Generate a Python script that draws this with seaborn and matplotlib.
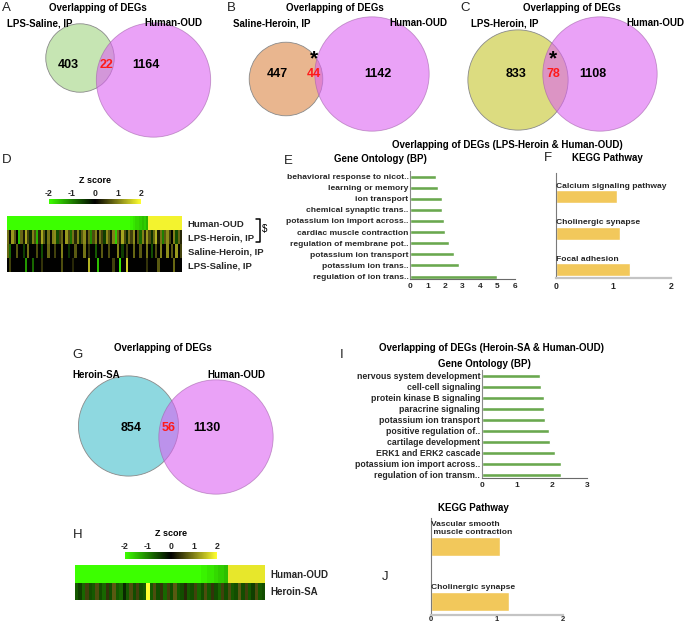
import numpy as np
import matplotlib
matplotlib.use('Agg')
import matplotlib.pyplot as plt
import seaborn as sns
from matplotlib.colors import LinearSegmentedColormap
from matplotlib.patches import Circle

sns.set_style('white')
plt.rcParams['font.family'] = ['Liberation Sans', 'DejaVu Sans']
plt.rcParams['font.weight'] = 'bold'
plt.rcParams['axes.unicode_minus'] = False

W, H = 685, 623

# ---- Venn counts: (only left, overlap, only Human-OUD) ----
venn_a = [403, 22, 1164]
venn_b = [447, 44, 1142]
venn_c = [833, 78, 1108]
venn_g = [854, 56, 1130]

# ---- GO / KEGG (LPS-Heroin & Human-OUD) ----
go_e_terms = ['behavioral response to nicot..', 'learning or memory', 'ion transport',
              'chemical synaptic trans..', 'potassium ion import across..',
              'cardiac muscle contraction', 'regulation of membrane pot..',
              'potassium ion transport', 'potassium ion trans..', 'regulation of ion trans..']
go_e_values = [1.47, 1.58, 1.83, 1.83, 1.92, 1.98, 2.23, 2.53, 2.80, 4.95]

kegg_f_terms = ['Calcium signaling pathway', 'Cholinergic synapse', 'Focal adhesion']
kegg_f_values = [1.06, 1.11, 1.30]

# ---- GO / KEGG (Heroin-SA & Human-OUD) ----
go_i_terms = ['nervous system development', 'cell-cell signaling', 'protein kinase B signaling',
              'paracrine signaling', 'potassium ion transport', 'positive regulation of..',
              'cartilage development', 'ERK1 and ERK2 cascade',
              'potassium ion import across..', 'regulation of ion transm..']
go_i_values = [1.67, 1.70, 1.77, 1.77, 1.80, 1.91, 1.95, 2.10, 2.27, 2.27]

kegg_j_terms = ['Vascular smooth\n muscle contraction', 'Cholinergic synapse']
kegg_j_values = [1.05, 1.18]

# ---- heatmap D (78 overlapping genes, z scores) ----
heat_d_rows = ['Human-OUD', 'LPS-Heroin, IP', 'Saline-Heroin, IP', 'LPS-Saline, IP']
human_oud_d = [-2.0, -2.0, -2.0, -2.0, -2.0, -2.0, -2.0, -2.0, -2.0, -2.0,
               -2.0, -2.0, -2.0, -2.0, -2.0, -2.0, -2.0, -2.0, -2.0, -2.0,
               -2.0, -2.0, -2.0, -2.0, -2.0, -2.0, -2.0, -2.0, -2.0, -2.0,
               -2.0, -2.0, -2.0, -2.0, -2.0, -2.0, -2.0, -2.0, -2.0, -2.0,
               -2.0, -2.0, -2.0, -2.0, -2.0, -2.0, -2.0, -2.0, -2.0, -2.0,
               -2.0, -2.0, -2.0, -2.0, -2.0, -1.9, -1.8, -1.7, -1.7, -1.6,
               -1.5, -1.6, -1.4, 1.9, 1.9, 1.9, 1.9, 1.9, 1.9, 1.9,
               1.9, 1.9, 1.9, 1.9, 1.9, 1.9, 1.9, 1.9]
lps_heroin_d = [0.9, 0.1, 1.2, 0.7, 0.0, -1.5, 0.8, 0.2, 1.3, 0.5, -0.3, 1.0, 0.6, -1.4, 0.3, 1.3, 0.7, -0.2, 0.9, 0.1,
                1.0, 1.1, -0.6, 0.5, 0.8, 0.0, 1.2, 0.6, -0.9, 0.9, 0.3, 1.0, -0.4, 0.7, 1.1, 0.2, 0.8, -1.1, 0.6, 1.0,
                0.1, 0.9, 0.5, -0.5, 1.1, 0.7, 0.2, 1.0, -1.6, 0.8, 0.3, 1.3, 0.6, -0.3, 0.9, 0.5, 1.1, 0.0, 0.7, -0.8,
                1.0, 0.3, 1.2, 0.6, -0.4, 0.8, 1.4, 0.2, 0.9, -1.0, 0.7, 1.1, 0.5, 0.0, 1.0, -0.6, 0.8, 0.3]
saline_heroin_d = [0.8, -0.8, 0.0, 0.0, 0.7, 0.0, 0.0, -0.5, 0.0, 0.9, 0.0, 0.0, 0.0, 0.6, 0.0, -0.6, 0.0, 0.0, 0.8, 0.0,
                   0.0, 0.5, 0.0, 0.0, 1.0, 0.0, 0.0, -0.4, 0.0, 0.0, 0.7, 0.0, 0.0, 0.0, 0.9, 0.0, 0.4, 0.0, 0.0, -0.7,
                   0.0, 0.0, 0.7, 0.0, 0.0, 0.6, 0.0, 0.0, 0.0, 1.0, 0.0, -0.5, 0.0, 0.5, 0.0, 0.0, 0.8, 0.0, 0.0, 0.7,
                   0.0, 0.0, 0.9, 0.0, -0.6, 0.0, 0.6, 0.0, 1.0, 0.0, 0.0, 1.1, 0.0, 0.7, 0.0, 1.2, 0.0, 0.5]
lps_saline_d = [0.0, 0.5, 0.0, 0.0, 0.0, 0.0, 0.0, 0.0, -1.2, 0.0, 0.0, -0.8, 0.0, 0.0, 0.0, 0.4, 0.0, 0.0, 0.0, 0.0,
                0.0, 0.0, 0.0, 0.0, 0.6, 0.0, 0.0, 0.0, 0.0, 0.3, 0.0, 0.0, 0.0, 0.0, 0.0, 0.0, 1.4, 0.0, 0.0, 0.0,
                -1.5, 0.0, 0.0, 0.0, 0.0, 0.0, 0.0, 0.5, 0.0, 0.0, -1.8, 0.0, 0.0, 1.6, 0.0, 0.0, 0.0, 0.0, 0.0, 0.0,
                0.0, 0.0, 0.4, 0.0, 0.0, 0.0, 0.0, 0.7, 0.0, 0.0, 0.0, 0.0, 0.0, 0.0, 0.8, 0.0, 0.0, 0.0]

# ---- heatmap H (56 overlapping genes) ----
heat_h_rows = ['Human-OUD', 'Heroin-SA']
human_oud_h = [-2.0, -2.0, -2.0, -2.0, -2.0, -2.0, -2.0, -2.0, -2.0, -2.0,
               -2.0, -2.0, -2.0, -2.0, -2.0, -2.0, -2.0, -2.0, -2.0, -2.0,
               -2.0, -2.0, -2.0, -2.0, -2.0, -2.0, -2.0, -2.0, -2.0, -2.0,
               -2.0, -2.0, -2.0, -2.0, -2.0, -2.0, -2.0, -1.9, -1.9, -1.8,
               -1.8, -1.7, -1.6, -1.6, -1.5, 1.8, 1.8, 1.8, 1.8, 1.8,
               1.8, 1.8, 1.8, 1.8, 1.8, 1.8]
heroin_sa_h = [-0.7, -0.5, -0.8, 0.5, -0.6, -0.7, 0.6, -0.6, -0.8, 0.4,
               -0.6, 0.7, -0.7, -0.8, -0.3, -0.7, 0.6, -0.6, 0.5, -0.6,
               -0.7, 2.0, -0.7, 0.6, -0.6, 0.4, -0.8, 0.5, -0.6, 0.7,
               -0.7, -0.6, 0.3, -0.7, -0.6, 0.5, -0.8, -0.6, 0.6, -0.7,
               0.4, -0.6, -0.8, 0.5, -0.6, 0.6, -0.7, -0.6, 0.7, -0.6,
               0.5, -0.7, -0.5, 0.6, -0.7, -0.6]

PINK = '#dc64f3'
GO_GREEN = '#6aa84f'
KEGG_YELLOW = '#f2c85b'
zcmap = LinearSegmentedColormap.from_list('zscore', ['#3cff00', '#000000', '#ffff30'])

fig = plt.figure(figsize=(W / 100, H / 100), dpi=100)

# full-figure canvas in pixel units for Venns and free text
canvas = fig.add_axes([0, 0, 1, 1])
canvas.set_xlim(0, W)
canvas.set_ylim(H, 0)
canvas.axis('off')


def px_axes(x0, y0, x1, y1):
    return fig.add_axes([x0 / W, 1 - y1 / H, (x1 - x0) / W, (y1 - y0) / H])


def txt(x, y, s, size=7, weight='bold', color='k', **kw):
    canvas.text(x, y, s, fontsize=size, fontweight=weight, color=color,
                ha=kw.pop('ha', 'center'), va=kw.pop('va', 'center'), **kw)


R_SCALE = 1.66


def draw_venn(counts, left_color, c_left, c_right, num_xy, star=False):
    r_left = R_SCALE * np.sqrt(counts[0] + counts[1])
    r_right = R_SCALE * np.sqrt(counts[1] + counts[2])
    canvas.add_patch(Circle(c_left, r_left, facecolor=left_color, edgecolor='#8a8a8a', lw=0.6, zorder=1))
    canvas.add_patch(Circle(c_right, r_right, facecolor=PINK, edgecolor='#a060a8', lw=0.6,
                            alpha=0.6, zorder=2))
    (x0, x1, x2), y = num_xy
    txt(x0, y, str(counts[0]), size=9, zorder=3)
    txt(x1, y, str(counts[1]), size=9, color='#ff1a1a', zorder=3)
    txt(x2, y, str(counts[2]), size=9, zorder=3)
    if star:
        txt(x1, y - 6, '*', size=15, zorder=3, va='bottom')


# Venn A, B, C, G
draw_venn(venn_a, '#c6e5b3', (80, 58), (153.5, 80), ((68, 107, 146), 65))
draw_venn(venn_b, '#e9b68f', (286, 79), (372, 74), ((277, 314, 378), 74), star=True)
draw_venn(venn_c, '#dcdc80', (518, 80), (600, 74), ((516, 553, 593), 74), star=True)
draw_venn(venn_g, '#8ed8e0', (128.5, 426), (216, 437), ((131, 169, 207), 428))

for x, title in [(98, 'Overlapping of DEGs'), (335, 'Overlapping of DEGs'), (572, 'Overlapping of DEGs')]:
    txt(x, 8, title)
txt(163, 348, 'Overlapping of DEGs')
txt(40, 23, 'LPS-Saline, IP')
txt(173, 23, 'Human-OUD')
txt(272, 23, 'Saline-Heroin, IP')
txt(418, 23, 'Human-OUD')
txt(505, 23, 'LPS-Heroin, IP')
txt(655, 23, 'Human-OUD')
txt(96, 375, 'Heroin-SA')
txt(236, 375, 'Human-OUD')

# panel letters
for x, y, letter in [(6, 8, 'A'), (231, 8, 'B'), (465, 8, 'C'), (7, 160, 'D'), (288, 161, 'E'),
                     (548, 158, 'F'), (78, 355, 'G'), (78, 535, 'H'), (342, 355, 'I'), (385, 577, 'J')]:
    txt(x, y, letter, size=9.5, weight='normal', color='#222222')

# ---- D heatmap ----
ax_d = px_axes(7, 216, 182, 272)
cax_d = px_axes(49, 199, 141, 204)
sns.heatmap(np.array([human_oud_d, lps_heroin_d, saline_heroin_d, lps_saline_d]), cmap=zcmap,
            vmin=-2, vmax=2, ax=ax_d, cbar_ax=cax_d, xticklabels=False, yticklabels=heat_d_rows,
            cbar_kws={'orientation': 'horizontal', 'ticks': [-2, -1, 0, 1, 2]})
txt(95, 185, 'Z score', size=6.5, va='bottom')
canvas.plot([256, 260, 260, 256], [219, 219, 242, 242], color='k', lw=1.1)
txt(265, 229, '$', size=7, weight='normal')

# ---- H heatmap ----
ax_h = px_axes(75, 565, 265, 600)
cax_h = px_axes(125, 552, 217, 559)
sns.heatmap(np.array([human_oud_h, heroin_sa_h]), cmap=zcmap, vmin=-2, vmax=2, ax=ax_h,
            cbar_ax=cax_h, xticklabels=False, yticklabels=heat_h_rows,
            cbar_kws={'orientation': 'horizontal', 'ticks': [-2, -1, 0, 1, 2]})
txt(171, 538, 'Z score', size=6.5, va='bottom')

for ax, cax in [(ax_d, cax_d), (ax_h, cax_h)]:
    ax.collections[0].set_antialiased(False)
    ax.collections[0].set_edgecolor('face')
    ax.yaxis.tick_right()
    ax.tick_params(axis='y', length=0, labelsize=6.8, rotation=0, pad=4)
    cax.xaxis.set_ticks_position('top')
    cax.tick_params(length=0, labelsize=6.3, pad=1)
    cax.set_frame_on(False)
ax_h.tick_params(axis='y', labelsize=7)


# ---- GO bar charts ----
def go_bars(ax, terms, values, xmax, ylims, size):
    sns.barplot(x=values, y=terms, orient='h', color=GO_GREEN, saturation=1, width=0.36, ax=ax)
    ax.set_xlim(0, xmax)
    ax.set_ylim(*ylims)
    ax.set_xticks(range(xmax + 1))
    ax.set_xlabel('')
    ax.set_ylabel('')
    sns.despine(ax=ax)
    ax.spines['left'].set_color('#8a8a8a')
    ax.spines['bottom'].set_color('#6a6a6a')
    ax.spines['left'].set_linewidth(0.8)
    ax.spines['bottom'].set_linewidth(0.8)
    ax.tick_params(axis='both', length=0, labelsize=size, pad=1)
    ax.tick_params(axis='x', pad=3, labelsize=6)


ax_e = px_axes(410, 171, 515, 279.3)
go_bars(ax_e, go_e_terms, go_e_values, 6, (9.25, -0.5), 6.1)
txt(507, 145, 'Overlapping of DEGs (LPS-Heroin & Human-OUD)')
txt(380, 159, 'Gene Ontology (BP)')

ax_i = px_axes(481.7, 370, 586.7, 477.5)
go_bars(ax_i, go_i_terms, go_i_values, 3, (9.23, -0.52), 6.3)
txt(492, 348, 'Overlapping of DEGs (Heroin-SA & Human-OUD)')
txt(484, 364, 'Gene Ontology (BP)')


# ---- KEGG bar charts ----
def kegg_bars(ax, terms, values, ylims):
    sns.barplot(x=values, y=terms, orient='h', color=KEGG_YELLOW, saturation=1, width=0.35, ax=ax)
    ax.set_xlim(0, 2)
    ax.set_ylim(*ylims)
    ax.set_xticks([0, 1, 2])
    ax.set_yticks([])
    ax.set_xlabel('')
    ax.set_ylabel('')
    sns.despine(ax=ax)
    ax.spines['left'].set_color('#7a7a7a')
    ax.spines['left'].set_linewidth(0.8)
    ax.spines['bottom'].set_color('#c4c4c4')
    ax.spines['bottom'].set_linewidth(1.6)
    ax.tick_params(axis='x', length=0, labelsize=6.3, pad=3)
    for i, term in enumerate(terms):
        ax.text(0.01, i - 0.19, term, fontsize=6.1, fontweight='bold', ha='left', va='bottom')


ax_f = px_axes(555.7, 173, 670.7, 278)
kegg_bars(ax_f, kegg_f_terms, kegg_f_values, (2.22, -0.64))
txt(607, 158, 'KEGG Pathway')

ax_j = px_axes(430.7, 518, 562.7, 615)
kegg_bars(ax_j, kegg_j_terms, kegg_j_values, (1.245, -0.52))
ax_j.tick_params(axis='x', labelsize=5.5, pad=0.5)
txt(473, 508, 'KEGG Pathway')

fig.savefig('out.png', dpi=100)
